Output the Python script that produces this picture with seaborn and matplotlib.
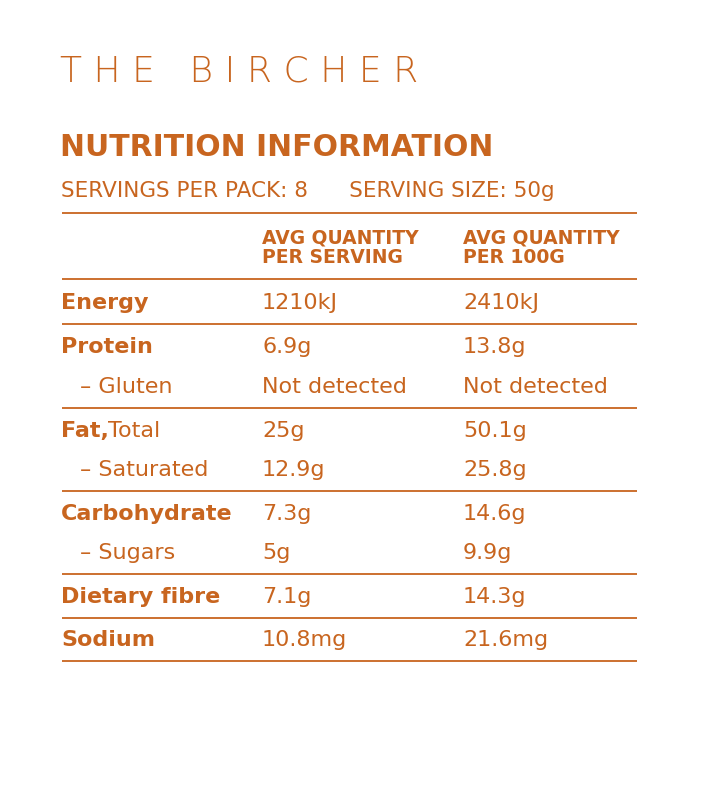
import matplotlib
matplotlib.use("Agg")
import matplotlib.pyplot as plt
import seaborn as sns

sns.set_theme(style="white")
FAM = ["Liberation Sans Narrow", "DejaVu Sans"]
plt.rcParams["font.family"] = FAM
ORANGE = "#C8651F"

title = "THE BIRCHER"
heading = "NUTRITION INFORMATION"
servings = "SERVINGS PER PACK: 8      SERVING SIZE: 50g"
col_heads = ["AVG QUANTITY\nPER SERVING", "AVG QUANTITY\nPER 100G"]

nutrients = ["Energy", "Protein", "– Gluten", "Fat,", "– Saturated",
             "Carbohydrate", "– Sugars", "Dietary fibre", "Sodium"]
per_serving = ["1210kJ", "6.9g", "Not detected", "25g", "12.9g", "7.3g", "5g", "7.1g", "10.8mg"]
per_100g = ["2410kJ", "13.8g", "Not detected", "50.1g", "25.8g", "14.6g", "9.9g", "14.3g", "21.6mg"]
row_y = [303, 347, 387, 431, 470, 514, 553, 597, 640]
rule_y = [213, 279, 324, 408, 491, 574, 618, 661]

BODY = 16

fig = plt.figure(figsize=(7.05, 8.0), dpi=100)
ax = fig.add_axes([0, 0, 1, 1])
ax.set_xlim(0, 705)
ax.set_ylim(800, 0)
ax.axis("off")

words = [" ".join(w) for w in title.split()]
ax.text(60, 72, "   ".join(words), color=ORANGE, fontsize=26,
        va="center", ha="left", fontweight="light")
ax.text(60, 148, heading, color=ORANGE, fontsize=21.5, fontweight="bold", va="center")
ax.text(61, 191, servings, color=ORANGE, fontsize=15.5, va="center")

ax.hlines(rule_y, 62, 637, color=ORANGE, linewidth=1.3)

for x, h in zip([262, 463], col_heads):
    ax.text(x, 248, h, color=ORANGE, fontsize=13.5, fontweight="bold", va="center",
            linespacing=1.0)

for y, name, a, b in zip(row_y, nutrients, per_serving, per_100g):
    if name.startswith("–"):
        ax.text(80, y, name, color=ORANGE, fontsize=BODY, va="center")
    elif name == "Fat,":
        ax.text(61, y, name, color=ORANGE, fontsize=BODY, fontweight="bold", va="center")
        ax.text(108, y, "Total", color=ORANGE, fontsize=BODY, va="center")
    else:
        ax.text(61, y, name, color=ORANGE, fontsize=BODY, fontweight="bold", va="center")
    ax.text(262, y, a, color=ORANGE, fontsize=BODY, va="center")
    ax.text(463, y, b, color=ORANGE, fontsize=BODY, va="center")

fig.savefig("out.png", dpi=100, facecolor="white")
